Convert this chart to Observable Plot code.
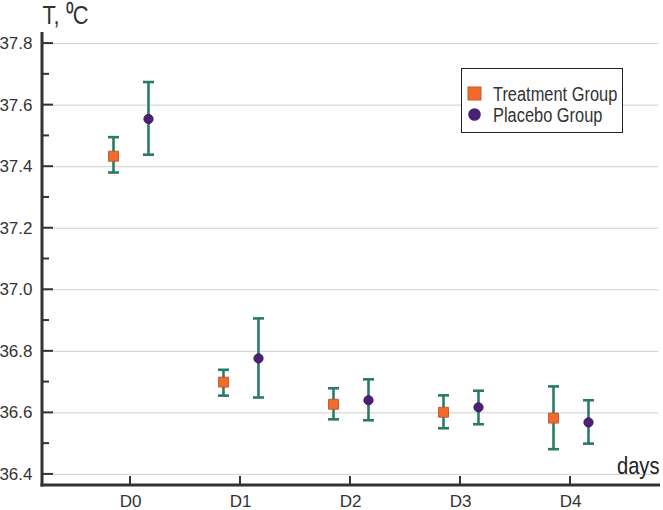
<!DOCTYPE html>
<html>
<head>
<meta charset="utf-8">
<script src="https://cdn.jsdelivr.net/npm/d3@7"></script>
<script src="https://cdn.jsdelivr.net/npm/@observablehq/plot@0.6"></script>
<style>
  html, body { margin: 0; padding: 0; background: #fff; }
  #wrap { position: relative; width: 663px; height: 510px; overflow: hidden;
          font-family: "Liberation Sans", Arial, sans-serif; }
  .legend { position: absolute; left: 461px; top: 68px; width: 162px; height: 65px;
            box-sizing: border-box; border: 1.5px solid #222; background: #fff; }
  .legend .item { position: absolute; left: 5px; height: 20px; white-space: nowrap; }
  .legend svg { position: absolute; left: 0; top: 2px; }
  .legend span { position: absolute; left: 26px; top: 0; font-size: 20px; line-height: 20px; color: #333;
                 display: inline-block; transform: scaleX(0.82); transform-origin: left center; white-space: nowrap; }
</style>
</head>
<body>
<div id="wrap"></div>
<script>
// ---- data ----
const categories = ["D0", "D1", "D2", "D3", "D4"];
const treatmentMean = [37.434, 36.700, 36.628, 36.602, 36.583];
const treatmentLow  = [37.381, 36.656, 36.579, 36.550, 36.482];
const treatmentHigh = [37.496, 36.740, 36.680, 36.657, 36.686];
const placeboMean = [37.555, 36.777, 36.641, 36.618, 36.569];
const placeboLow  = [37.439, 36.650, 36.576, 36.563, 36.500];
const placeboHigh = [37.675, 36.907, 36.709, 36.672, 36.641];
const yTicks = [36.4, 36.6, 36.8, 37.0, 37.2, 37.4, 37.6, 37.8];
const yMinorTicks = [36.5, 36.7, 36.9, 37.1, 37.3, 37.5, 37.7];
const yDomain = [36.364, 37.836];
const seriesNames = ["Treatment Group", "Placebo Group"];
const yLabel = "T, \u2070C";
const xLabel = "days";

// ---- styles ----
const teal = "#2b7a69";
const orange = "#f26b2b";
const orangeStroke = "#bf5a36";
const purple = "#4a2176";
const axisColor = "#333";

const treatment = categories.map((d, i) => ({day: d, mean: treatmentMean[i], low: treatmentLow[i], high: treatmentHigh[i]}));
const placebo = categories.map((d, i) => ({day: d, mean: placeboMean[i], low: placeboLow[i], high: placeboHigh[i]}));

const cap = {draw(ctx) { ctx.moveTo(-5.5, 0); ctx.lineTo(5.5, 0); }};

function errorBars(data, dx) {
  return [
    Plot.ruleX(data, {x: "day", y1: "low", y2: "high", dx, stroke: teal, strokeWidth: 2.6}),
    Plot.dot(data, {x: "day", y: "low", dx, symbol: cap, fill: "none", stroke: teal, strokeWidth: 2.6}),
    Plot.dot(data, {x: "day", y: "high", dx, symbol: cap, fill: "none", stroke: teal, strokeWidth: 2.6})
  ];
}

// axis lines + inward ticks, drawn with the plot's own scales
function axesFrame(index, scales, values, dims) {
  const g = d3.create("svg:g").attr("stroke", axisColor).attr("fill", "none");
  const left = dims.marginLeft, bottom = dims.height - dims.marginBottom;
  g.append("line").attr("x1", left).attr("x2", left).attr("y1", dims.marginTop).attr("y2", bottom + 1.5).attr("stroke-width", 3);
  g.append("line").attr("x1", left - 1.5).attr("x2", dims.width - 3).attr("y1", bottom).attr("y2", bottom).attr("stroke-width", 3);
  for (const t of yTicks) g.append("line").attr("x1", left).attr("x2", left + 11).attr("y1", scales.y(t)).attr("y2", scales.y(t)).attr("stroke-width", 2);
  for (const t of yMinorTicks) g.append("line").attr("x1", left).attr("x2", left + 7).attr("y1", scales.y(t)).attr("y2", scales.y(t)).attr("stroke-width", 2);
  for (const c of categories) g.append("line").attr("x1", scales.x(c)).attr("x2", scales.x(c)).attr("y1", bottom).attr("y2", bottom - 9).attr("stroke-width", 2);
  return g.node();
}

const chart = Plot.plot({
  width: 663,
  height: 510,
  marginLeft: 42,
  marginRight: 5,
  marginTop: 32,
  marginBottom: 25,
  style: {fontFamily: "'Liberation Sans', Arial, sans-serif", fontSize: "17px", color: "#333", background: "#fff", overflow: "visible"},
  x: {type: "point", domain: categories, padding: 0.787},
  y: {domain: yDomain},
  marks: [
    Plot.gridY(yTicks, {stroke: "#cfcfcf", strokeOpacity: 1, strokeWidth: 1}),
    Plot.axisY(yTicks, {tickSize: 0, tickPadding: 10, tickFormat: d => d.toFixed(1), label: null, fill: "#333"}),
    Plot.axisX(categories, {tickSize: 0, tickPadding: 9, label: null, fill: "#333"}),
    axesFrame,
    ...errorBars(treatment, -17),
    ...errorBars(placebo, 18),
    Plot.dot(treatment, {x: "day", y: "mean", dx: -17, symbol: "square", r: 5.6, fill: orange, stroke: orangeStroke, strokeWidth: 1}),
    Plot.dot(placebo, {x: "day", y: "mean", dx: 18, r: 4.6, fill: purple, stroke: "#3a1660", strokeWidth: 1}),
    Plot.text([yLabel], {text: d => d, frameAnchor: "top-left", textAnchor: "start", lineAnchor: "bottom", dy: -9, fontSize: 26, fill: "#333"}),
    Plot.text([xLabel], {text: d => d, frameAnchor: "bottom-right", textAnchor: "end", lineAnchor: "bottom", dx: 1, dy: -12, fontSize: 24, fill: "#222"})
  ]
});

// condensed look for the two axis titles
d3.select(chart).selectAll("text").each(function() {
  const s = this.textContent;
  if (s === yLabel || s === xLabel) {
    const t = this.getAttribute("transform") || "";
    this.setAttribute("transform", t + " scale(0.84,1)");
  }
});

const wrap = document.getElementById("wrap");
wrap.appendChild(chart);

// legend
const legend = document.createElement("div");
legend.className = "legend";
const swatches = [
  `<svg width="15" height="15"><rect x="1" y="1" width="13" height="13" fill="${orange}" stroke="${orangeStroke}"/></svg>`,
  `<svg width="15" height="15"><circle cx="7.5" cy="7.5" r="6.3" fill="${purple}"/></svg>`
];
seriesNames.forEach((name, i) => {
  const item = document.createElement("div");
  item.className = "item";
  item.style.top = (15 + i * 21) + "px";
  item.innerHTML = swatches[i] + `<span>${name}</span>`;
  legend.appendChild(item);
});
wrap.appendChild(legend);
</script>
</body>
</html>
